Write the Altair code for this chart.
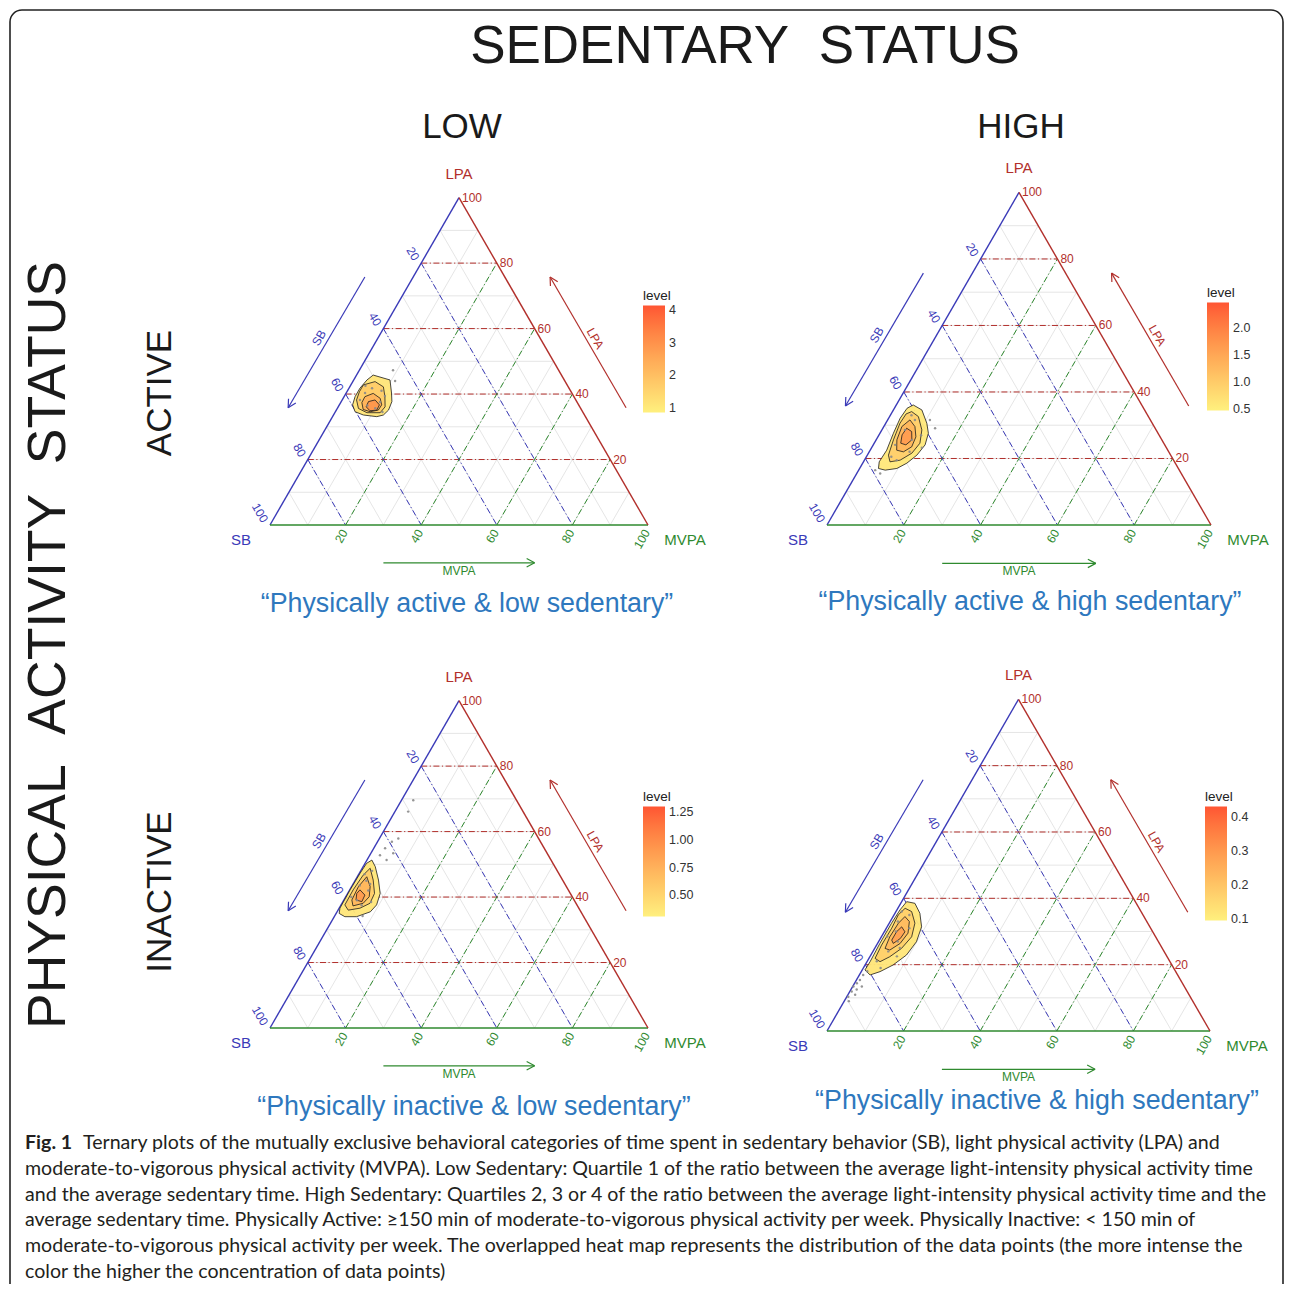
import math
import pandas as pd
import altair as alt

# ---------------- data ----------------
# panel geometry (layout): SB corner x, y and side length, in page pixels
PANELS = {"TL": (270, 525, 378), "TR": (827, 525, 384),
          "BL": (270, 1028, 378), "BR": (827, 1031, 383)}

GRID_MINOR = [10, 20, 30, 40, 50, 60, 70, 80, 90]
GRID_MAJOR = [20, 40, 60, 80]
TICK_VALUES = [20, 40, 60, 80, 100]

# density contours: level -> list of (LPA %, MVPA %) ; SB = 100 - LPA - MVPA
TL_RINGS = {
    1.1: [(45.8, 4.4), (44.3, 9.6), (40.3, 12.0), (37.7, 13.4), (35.1, 13.8), (33.6, 13.2), (33.1, 11.7),
          (33.6, 7.9), (34.6, 5.2), (36.7, 3.5), (39.2, 2.9), (41.8, 2.9), (44.3, 3.5)],
    1.7: [(42.8, 3.3), (43.8, 5.9), (42.2, 8.9), (39.2, 10.8), (36.1, 12.4), (34.3, 12.0), (34.3, 8.5),
          (35.6, 5.6), (38.2, 3.8), (40.7, 3.3)],
    2.3: [(39.2, 5.5), (40.2, 7.2), (38.7, 9.8), (36.7, 11.2), (35.1, 11.1), (34.6, 9.2), (35.3, 7.0), (37.4, 5.6)],
    2.9: [(37.7, 7.2), (38.2, 8.7), (36.7, 10.6), (35.1, 10.7), (34.9, 9.0), (36.1, 7.4)],
}
TR_RINGS = {
    0.6: [(36.1, 4.4), (34.6, 7.4), (30.6, 10.7), (27.6, 12.6), (24.1, 13.5), (21.0, 12.9), (18.6, 11.5),
          (17.0, 9.7), (16.5, 6.9), (17.0, 4.9), (19.0, 4.1), (22.5, 4.3), (27.6, 3.5), (32.1, 3.0), (35.1, 3.3)],
    0.95: [(34.1, 5.0), (32.6, 7.5), (28.6, 10.4), (24.6, 11.9), (21.6, 11.3), (19.5, 9.3), (19.0, 6.9),
           (21.0, 5.5), (25.6, 4.5), (30.6, 3.7), (33.4, 3.9)],
    1.3: [(31.6, 5.8), (29.6, 8.1), (26.5, 9.9), (23.5, 10.3), (22.0, 8.9), (22.5, 6.9), (25.6, 5.4), (29.6, 4.7)],
    1.65: [(29.1, 6.2), (28.1, 8.0), (25.6, 9.3), (24.1, 8.5), (24.6, 6.9), (27.1, 6.0)],
}
BL_RINGS = {
    0.38: [(51.3, 1.3), (49.3, 3.2), (45.2, 6.1), (41.1, 8.6), (37.6, 9.4), (35.5, 8.8), (34.0, 5.9),
           (34.0, 2.8), (35.0, 0.8), (36.6, 0.2), (42.2, 0.1), (47.3, 0.2), (50.3, 0.4)],
    0.55: [(48.8, 2.1), (45.2, 4.7), (41.1, 7.1), (38.1, 7.4), (36.6, 5.5), (36.0, 2.7), (37.6, 1.0),
           (42.2, 0.9), (46.7, 1.3)],
    0.72: [(46.2, 2.5), (43.2, 4.9), (40.1, 6.2), (38.1, 5.6), (37.3, 3.3), (39.1, 2.1), (43.2, 1.8)],
    0.90: [(42.2, 2.7), (40.6, 4.8), (38.6, 5.0), (39.1, 3.2), (41.1, 2.4)],
}
BR_RINGS = {
    0.12: [(39.0, 1.3), (38.5, 3.7), (35.5, 6.5), (31.4, 9.0), (26.9, 9.9), (22.9, 9.3), (19.9, 7.3),
           (17.9, 4.9), (16.9, 2.8), (18.4, 0.7), (20.9, 0.8), (26.4, 0.6), (32.5, 0.6), (36.5, 0.8)],
    0.17: [(37.0, 1.9), (36.0, 4.1), (32.5, 6.7), (28.4, 7.9), (24.9, 7.0), (22.4, 5.2), (20.9, 3.4),
           (21.9, 1.6), (25.9, 1.3), (31.0, 1.4), (35.0, 1.1)],
    0.22: [(34.5, 3.1), (33.0, 5.0), (29.5, 6.4), (26.4, 5.9), (24.4, 4.2), (24.9, 2.7), (28.4, 2.2), (32.5, 2.4)],
    0.28: [(31.4, 3.8), (29.9, 5.4), (27.9, 5.2), (26.4, 4.1), (27.4, 3.2), (29.9, 3.2)],
}

# visible data points: (LPA %, MVPA %)
TL_PTS = [(47.3, 8.9), (44.0, 11.1), (40.3, 5.0), (41.8, 6.1), (37.6, 10.3), (38.2, 4.7), (35.7, 10.0),
          (39.4, 10.7), (42.5, 4.0), (36.5, 7.5), (41.0, 9.0), (34.5, 12.5)]
TR_PTS = [(29.1, 13.6), (31.6, 11.0), (23.2, 13.1), (16.5, 4.3), (15.5, 6.1), (19.5, 8.4), (28.6, 6.0),
          (25.6, 9.3), (24.1, 5.7), (31.6, 7.1), (20.5, 6.5), (33.0, 5.5), (27.0, 11.0), (22.0, 10.5)]
BL_PTS = [(69.6, 3.1), (66.1, 3.5), (57.9, 5.0), (56.9, 3.8), (54.9, 3.0), (53.4, 5.9), (51.3, 5.2),
          (52.8, 2.7), (34.2, 7.4), (45.0, 3.0), (42.0, 5.0), (39.0, 3.5), (47.0, 1.5), (40.0, 1.5),
          (37.5, 5.5), (43.5, 2.0), (44.0, 4.5), (48.0, 3.0), (38.5, 7.5)]
BR_PTS = [(16.9, 1.0), (15.4, 0.9), (14.4, 0.6), (13.4, 2.4), (13.4, 0.2), (11.9, 0.5), (10.9, 1.9),
          (10.3, 0.4), (30.0, 3.0), (27.0, 5.0), (24.0, 4.0), (33.0, 2.0), (21.0, 2.5), (19.0, 4.5),
          (36.0, 1.5), (28.5, 1.5), (25.0, 6.5), (18.0, 1.5), (9.0, 1.2), (12.5, 1.5), (31.0, 6.0),
          (22.5, 7.0), (35.0, 4.0)]

# legend scales (level)
LEGEND_DOMAIN = {"TL": [0.85, 4.15], "TR": [0.48, 2.48], "BL": [0.31, 1.30], "BR": [0.097, 0.43]}
LEGEND_TICKS = {"TL": [1, 2, 3, 4], "TR": [0.5, 1.0, 1.5, 2.0], "BL": [0.5, 0.75, 1.0, 1.25],
                "BR": [0.1, 0.2, 0.3, 0.4]}
LEGEND_FMT = {"TL": "d", "TR": ".1f", "BL": ".2f", "BR": ".1f"}

PANEL_CAPTIONS = {"TL": "\u201cPhysically active & low sedentary\u201d",
                  "TR": "\u201cPhysically active & high sedentary\u201d",
                  "BL": "\u201cPhysically inactive & low sedentary\u201d",
                  "BR": "\u201cPhysically inactive & high sedentary\u201d"}

FIG_LABEL = "Fig. 1"
CAPTION_LINES = [
    "Ternary plots of the mutually exclusive behavioral categories of time spent in sedentary behavior (SB), light physical activity (LPA) and",
    "moderate-to-vigorous physical activity (MVPA). Low Sedentary: Quartile 1 of the ratio between the average light-intensity physical activity time",
    "and the average sedentary time. High Sedentary: Quartiles 2, 3 or 4 of the ratio between the average light-intensity physical activity time and the",
    "average sedentary time. Physically Active: \u2265150 min of moderate-to-vigorous physical activity per week. Physically Inactive: < 150 min of",
    "moderate-to-vigorous physical activity per week. The overlapped heat map represents the distribution of the data points (the more intense the",
    "color the higher the concentration of data points)",
]

# ---------------- styles / layout ----------------
SANS = "Liberation Sans"
CAP_FONT = "Lato"
CAP_SIZE = 19.6
RED, BLUE, GREEN = "#B2302C", "#3A3AB8", "#2F8A2F"
CAP_BLUE = "#2E78BE"
LOW_C, HIGH_C = "#FFF07E", "#FF5533"
W, H = 1276, 1276
SQ = math.sqrt(3) / 2

XS = alt.Scale(domain=[8, 8 + W], nice=False, zero=False)
YS = alt.Scale(domain=[8, 8 + H], nice=False, zero=False, reverse=True)


def txy(p, lpa, mvpa):
    x0, y0, L = PANELS[p]
    return x0 + L * (mvpa + lpa / 2) / 100.0, y0 - L * SQ * lpa / 100.0


def loc(p, u, v):
    x0, y0, L = PANELS[p]
    return x0 + L * u, y0 - L * v


def seg_chart(rows, **mk):
    df = pd.DataFrame(rows, columns=["x", "y", "x2", "y2", "c"])
    return alt.Chart(df).mark_rule(**mk).encode(
        x=alt.X("x:Q", scale=XS, axis=None), y=alt.Y("y:Q", scale=YS, axis=None),
        x2="x2:Q", y2="y2:Q", color=alt.Color("c:N", scale=None))


minor, major, edges, arrows = [], [], [], []
texts = []
for p in PANELS:
    for v in GRID_MINOR:
        for a, b in [(txy(p, v, 0), txy(p, v, 100 - v)),
                     (txy(p, 100 - v, 0), txy(p, 0, 100 - v)),
                     (txy(p, 0, v), txy(p, 100 - v, v))]:
            minor.append((a[0], a[1], b[0], b[1], "#DEDEDE"))
    for v in GRID_MAJOR:
        a, b = txy(p, v, 0), txy(p, v, 100 - v)
        major.append((a[0], a[1], b[0], b[1], RED))
        a, b = txy(p, 100 - v, 0), txy(p, 0, 100 - v)
        major.append((a[0], a[1], b[0], b[1], BLUE))
        a, b = txy(p, 0, v), txy(p, 100 - v, v)
        major.append((a[0], a[1], b[0], b[1], GREEN))
    sbc, mvc, lpc = txy(p, 0, 0), txy(p, 0, 100), txy(p, 100, 0)
    edges += [(sbc[0], sbc[1], lpc[0], lpc[1], BLUE), (sbc[0], sbc[1], mvc[0], mvc[1], GREEN),
              (mvc[0], mvc[1], lpc[0], lpc[1], RED)]
    # axis arrows (layout in panel units)
    for (su, sv, eu, ev, col, lab, ang, off) in [
            (0.251, 0.656, 0.048, 0.310, BLUE, "SB", 300, (-1.5, -1.0)),
            (0.942, 0.310, 0.741, 0.656, RED, "LPA", 60, (1.0, -0.5)),
            (0.300, -0.100, 0.700, -0.100, GREEN, "MVPA", 0, (0, 0))]:
        s, e = loc(p, su, sv), loc(p, eu, ev)
        arrows.append((s[0], s[1], e[0], e[1], col))
        dx, dy = e[0] - s[0], e[1] - s[1]
        n = math.hypot(dx, dy)
        dx, dy = dx / n, dy / n
        for sgn in (1, -1):
            t = math.radians(28) * sgn
            hx = dx * math.cos(t) - dy * math.sin(t)
            hy = dx * math.sin(t) + dy * math.cos(t)
            arrows.append((e[0], e[1], e[0] - 9 * hx, e[1] - 9 * hy, col))
        mx, my = (s[0] + e[0]) / 2, (s[1] + e[1]) / 2
        if lab == "MVPA":
            texts.append(dict(x=mx, y=my + 8, text=lab, size=12, color=col, angle=0,
                              align="center", baseline="middle", font=SANS, weight="normal"))
        else:
            texts.append(dict(x=mx + off[0], y=my + off[1], text=lab, size=12, color=col, angle=ang,
                              align="center", baseline="bottom", font=SANS, weight="normal"))
    # tick labels
    for v in TICK_VALUES:
        tx, ty = txy(p, 0, v)
        texts.append(dict(x=tx - 1, y=ty + 5.5, text=str(v), size=12, color=GREEN, angle=300,
                          align="right", baseline="middle", font=SANS, weight="normal"))
        tx, ty = txy(p, 100 - v, 0)
        texts.append(dict(x=tx - 5, y=ty - 3.5, text=str(v), size=12, color=BLUE, angle=60,
                          align="right", baseline="middle", font=SANS, weight="normal"))
        tx, ty = txy(p, v, 100 - v)
        texts.append(dict(x=tx + 3, y=ty, text=str(v), size=12, color=RED, angle=0,
                          align="left", baseline="middle", font=SANS, weight="normal"))
    # corner labels
    texts.append(dict(x=lpc[0], y=lpc[1] - 24, text="LPA", size=15, color=RED, angle=0,
                      align="center", baseline="middle", font=SANS, weight="normal"))
    texts.append(dict(x=sbc[0] - 29, y=sbc[1] + 15, text="SB", size=15, color=BLUE, angle=0,
                      align="center", baseline="middle", font=SANS, weight="normal"))
    texts.append(dict(x=mvc[0] + 37, y=mvc[1] + 15, text="MVPA", size=15, color=GREEN, angle=0,
                      align="center", baseline="middle", font=SANS, weight="normal"))

CAP_POS = {"TL": (467, 604), "TR": (1030, 602), "BL": (474, 1107), "BR": (1037, 1101)}
for p, (cx, cy) in CAP_POS.items():
    texts.append(dict(x=cx, y=cy, text=PANEL_CAPTIONS[p], size=26.8, color=CAP_BLUE, angle=0,
                      align="center", baseline="middle", font=SANS, weight="normal"))

big = [("SEDENTARY\u00a0\u00a0STATUS", 745, 47, 53, 0), ("LOW", 462, 127, 35, 0), ("HIGH", 1021, 127, 35, 0),
       ("PHYSICAL\u00a0\u00a0ACTIVITY\u00a0\u00a0STATUS", 49, 645, 53.5, 270), ("ACTIVE", 160, 393, 35, 270),
       ("INACTIVE", 160, 892, 35, 270)]
for t, x, y, s, a in big:
    texts.append(dict(x=x, y=y, text=t, size=s, color="#1A1A1A", angle=a,
                      align="center", baseline="middle", font=SANS, weight="normal"))

CAP_Y = [1143, 1168.8, 1194.6, 1220.4, 1246.2, 1272]
texts.append(dict(x=25, y=CAP_Y[0], text=FIG_LABEL, size=CAP_SIZE, color="#231F20", angle=0,
                  align="left", baseline="middle", font=CAP_FONT, weight="bold"))
for i, line in enumerate(CAPTION_LINES):
    texts.append(dict(x=83 if i == 0 else 25, y=CAP_Y[i], text=line, size=CAP_SIZE, color="#231F20", angle=0,
                      align="left", baseline="middle", font=CAP_FONT, weight="normal"))

layers = []

# border (right edge kept inside the drawable area)
border = pd.DataFrame([{"x": 10, "x2": 1283, "y": 10, "y2": 1320}])
layers.append(alt.Chart(border).mark_rect(fill="white", stroke="#222222", strokeWidth=1.6, cornerRadius=12).encode(
    x=alt.X("x:Q", scale=XS, axis=None), x2="x2:Q", y=alt.Y("y:Q", scale=YS, axis=None), y2="y2:Q"))

layers.append(seg_chart(minor, strokeWidth=0.8))
layers.append(seg_chart(major, strokeWidth=1.0, strokeDash=[6, 2.5, 1.2, 2.5]))
layers.append(seg_chart(edges, strokeWidth=1.4))
layers.append(seg_chart(arrows, strokeWidth=1.2))

# contours
LEG_POS = {"TL": (635, 281), "TR": (1199, 278), "BL": (635, 782), "BR": (1197, 782)}
LEG_LEN = {"TL": 107, "TR": 108, "BL": 110, "BR": 114}
for p, rings in [("TL", TL_RINGS), ("TR", TR_RINGS), ("BL", BL_RINGS), ("BR", BR_RINGS)]:
    rows = []
    for k, (lvl, pts) in enumerate(rings.items()):
        for j, (lpa, mv) in enumerate(pts):
            x, y = txy(p, lpa, mv)
            rows.append(dict(x=x, y=y, level=lvl, ring=f"r{k}", ord=j))
    df = pd.DataFrame(rows)
    lx, ly = LEG_POS[p]
    layers.append(alt.Chart(df).mark_line(filled=True, interpolate="linear-closed", stroke="#1A1A1A",
                                          strokeWidth=0.8, fillOpacity=0.95).encode(
        x=alt.X("x:Q", scale=XS, axis=None), y=alt.Y("y:Q", scale=YS, axis=None),
        detail="ring:N", order="ord:Q",
        color=alt.Color("level:Q",
                        scale=alt.Scale(domain=LEGEND_DOMAIN[p], range=[LOW_C, HIGH_C], interpolate="lab"),
                        legend=alt.Legend(title="level", orient="none", legendX=lx, legendY=ly,
                                          direction="vertical", gradientLength=LEG_LEN[p],
                                          gradientThickness=22, values=LEGEND_TICKS[p],
                                          format=LEGEND_FMT[p], labelFontSize=12.5, titleFontSize=13.5,
                                          titleFontWeight="normal", titleFont=SANS, labelFont=SANS,
                                          labelColor="#333333", titleColor="#222222",
                                          gradientStrokeWidth=0, labelOverlap=False, titlePadding=3,
                                          labelOffset=4, padding=0))))

# data points
prow = []
for p, pts in [("TL", TL_PTS), ("TR", TR_PTS), ("BL", BL_PTS), ("BR", BR_PTS)]:
    for lpa, mv in pts:
        x, y = txy(p, lpa, mv)
        prow.append(dict(x=x, y=y))
layers.append(alt.Chart(pd.DataFrame(prow)).mark_circle(size=6, color="#8A8A8A", opacity=0.9).encode(
    x=alt.X("x:Q", scale=XS, axis=None), y=alt.Y("y:Q", scale=YS, axis=None)))

# texts grouped by style
tdf = pd.DataFrame(texts)
for (al, bl, fn, wt), g in tdf.groupby(["align", "baseline", "font", "weight"]):
    layers.append(alt.Chart(g.drop(columns=["align", "baseline", "font", "weight"])).mark_text(
        align=al, baseline=bl, font=fn, fontWeight=wt).encode(
        x=alt.X("x:Q", scale=XS, axis=None), y=alt.Y("y:Q", scale=YS, axis=None), text="text:N",
        size=alt.Size("size:Q", scale=None), color=alt.Color("color:N", scale=None),
        angle=alt.Angle("angle:Q", scale=None)))

chart = alt.layer(*layers).resolve_scale(color="independent").properties(
    width=W, height=H, autosize=alt.AutoSizeParams(type="none"), padding=0
).configure_view(stroke=None)

chart.save("out.html", embed_options={"renderer": "svg", "actions": False})
